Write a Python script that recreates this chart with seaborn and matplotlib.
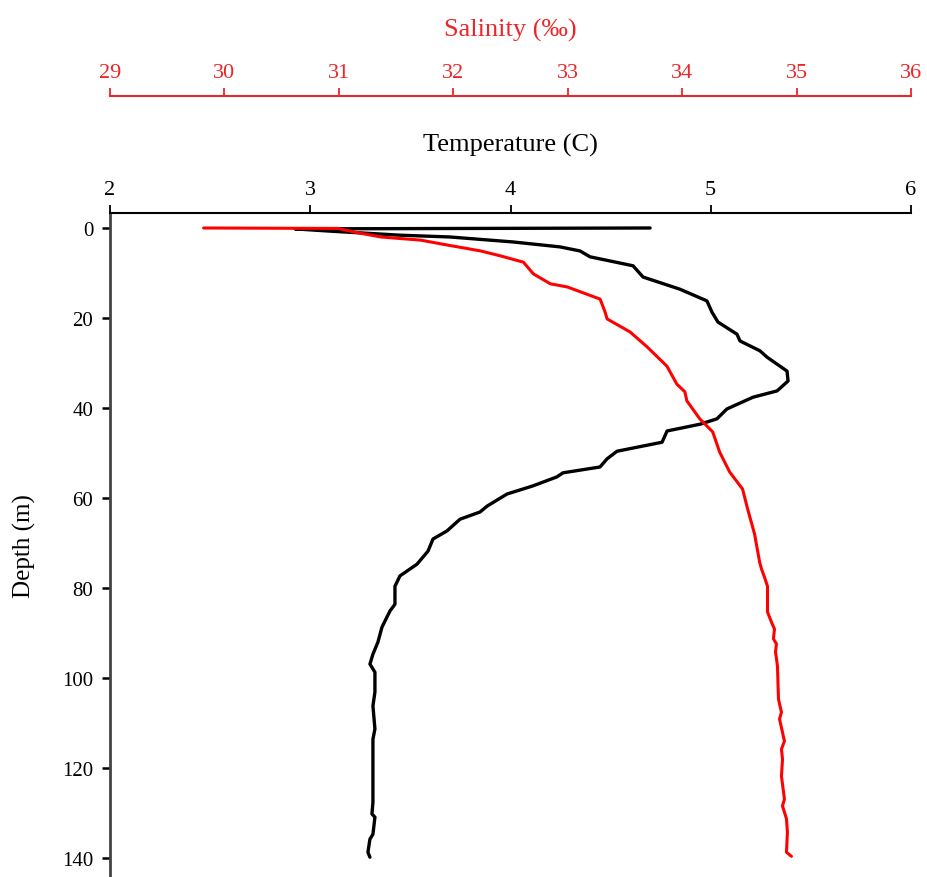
import matplotlib
matplotlib.use("Agg")
import matplotlib.pyplot as plt
import seaborn as sns
import pandas as pd

# ---- data ----
temp_depth = [0, 0.2, 0.7, 1.6, 2.0, 3.1, 4.2, 5.1, 6.4, 8.4, 10.9, 13.6, 16.2, 18.7,
              20.9, 23.6, 25.1, 27.3, 28.7, 31.8, 34.0, 36.2, 37.6, 40.2, 42.4, 43.6,
              45.1, 47.6, 49.6, 51.3, 53.1, 54.4, 55.3, 57.3, 59.1, 61.8, 63.1, 64.7,
              67.3, 69.1, 71.8, 74.7, 77.3, 79.6, 83.6, 85.1, 88.7, 92.0, 94.7, 96.9,
              98.7, 103.1, 106.2, 111.3, 113.6, 127.6, 130.2, 130.9, 134.7, 135.8,
              138.7, 139.8]
temperature = [4.697, 2.924, 3.099, 3.448, 3.698, 4.012, 4.247, 4.347, 4.397, 4.612,
               4.662, 4.846, 4.981, 5.006, 5.036, 5.131, 5.146, 5.246, 5.281, 5.381,
               5.386, 5.331, 5.211, 5.081, 5.031, 4.946, 4.782, 4.757, 4.532, 4.482,
               4.447, 4.262, 4.232, 4.112, 3.983, 3.883, 3.848, 3.748, 3.683, 3.613,
               3.588, 3.533, 3.448, 3.423, 3.423, 3.398, 3.358, 3.338, 3.313, 3.298,
               3.323, 3.323, 3.313, 3.323, 3.313, 3.313, 3.308, 3.323, 3.313, 3.298,
               3.288, 3.298]

sal_depth = [0, 0.1, 0.9, 2.0, 2.7, 3.8, 5.1, 6.2, 7.6, 10.2, 12.4, 13.1, 15.8, 18.7,
             20.2, 23.1, 26.4, 30.7, 34.7, 36.4, 38.4, 42.4, 45.3, 49.8, 54.2, 58.0,
             62.4, 68.0, 74.2, 75.8, 77.6, 79.6, 85.3, 87.6, 89.1, 91.3, 92.4, 94.2,
             97.3, 104.7, 107.6, 109.1, 114.0, 115.8, 118.0, 121.8, 126.9, 128.4,
             131.3, 134.2, 138.7, 139.6]
salinity = [29.818, 30.994, 31.133, 31.368, 31.716, 31.951, 32.239, 32.413, 32.613,
            32.700, 32.848, 32.996, 33.283, 33.327, 33.344, 33.545, 33.693, 33.867,
            33.954, 34.024, 34.041, 34.154, 34.267, 34.328, 34.415, 34.528, 34.572,
            34.633, 34.677, 34.694, 34.720, 34.746, 34.746, 34.781, 34.807, 34.798,
            34.824, 34.816, 34.833, 34.842, 34.868, 34.851, 34.894, 34.868, 34.877,
            34.868, 34.894, 34.877, 34.912, 34.920, 34.912, 34.955]

temp_ticks = [2, 3, 4, 5, 6]
sal_ticks = [29, 30, 31, 32, 33, 34, 35, 36]
depth_ticks = [0, 20, 40, 60, 80, 100, 120, 140]

sns.set_style("white")
plt.rcParams['font.family'] = ['Liberation Serif', 'DejaVu Serif']

temp_df = pd.DataFrame({"Temperature": temperature, "Depth": temp_depth})
sal_df = pd.DataFrame({"Salinity": salinity, "Depth": sal_depth})

W, H = 927, 878
fig = plt.figure(figsize=(W / 100, H / 100), dpi=100)
ax = fig.add_axes([110 / W, 0, 801 / W, 664 / H])

sns.lineplot(data=temp_df, x="Temperature", y="Depth", sort=False, estimator=None,
             color="black", linewidth=2.4, ax=ax)

ax2 = ax.twiny()
sns.lineplot(data=sal_df, x="Salinity", y="Depth", sort=False, estimator=None,
             color="#ff0000", linewidth=2.2, ax=ax2)

# temperature axis (top, at depth ~ -3)
ax.set_xlim(2, 6)
ax.set_ylim(144.2, -3.33)
ax.set_xticks(temp_ticks)
ax.set_yticks(depth_ticks)
ax.xaxis.tick_top()
ax.xaxis.set_label_position("top")
ax.set_xlabel("Temperature (C)", fontsize=19, labelpad=21, color="black")
ax.set_ylabel("Depth (m)", fontsize=18, labelpad=19, color="black")
for s in ["right", "bottom"]:
    ax.spines[s].set_visible(False)
ax.spines["top"].set_visible(True)
ax.spines["top"].set_color("black")
ax.spines["top"].set_linewidth(1.5)
ax.spines["left"].set_color("#444444")
ax.spines["left"].set_linewidth(2.0)
ax.tick_params(axis="x", which="both", direction="out", length=6, width=1.3,
               pad=4, labelsize=16, colors="black", top=True, bottom=False,
               labeltop=True, labelbottom=False)
ax.tick_params(axis="y", which="both", direction="out", length=6, width=1.8,
               pad=6, labelsize=15, colors="black", left=True)

# salinity axis (raised above)
ax2.set_xlim(29, 36)
ax2.set_ylim(144.2, -3.33)
ax2.set_xticks(sal_ticks)
ax2.spines["top"].set_position(("axes", 1.176))
for s in ["right", "bottom", "left"]:
    ax2.spines[s].set_visible(False)
ax2.spines["top"].set_color("#e8262b")
ax2.spines["top"].set_linewidth(1.5)
ax2.xaxis.tick_top()
ax2.xaxis.set_label_position("top")
ax2.set_xlabel("Salinity (‰)", fontsize=19, color="#e8262b", labelpad=20)
ax2.tick_params(axis="x", direction="out", length=6, width=1.3, pad=4,
                labelsize=16, colors="#e8262b", labelcolor="#e8262b")

fig.savefig("out.png", dpi=100)
